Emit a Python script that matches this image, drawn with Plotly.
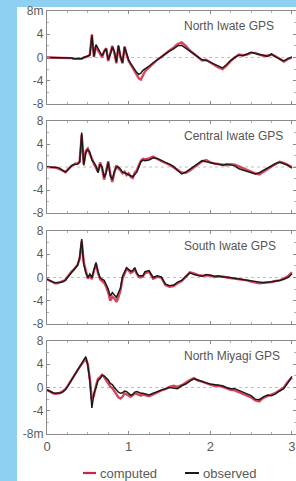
import plotly.graph_objects as go

# ---------------- data ----------------
TIME = [0.000, 0.025, 0.050, 0.075, 0.100, 0.125, 0.150, 0.175, 0.200, 0.225,
        0.250, 0.275, 0.300, 0.325, 0.350, 0.375, 0.400, 0.425, 0.450, 0.475,
        0.500, 0.525, 0.550, 0.575, 0.600, 0.625, 0.650, 0.675, 0.700, 0.725,
        0.750, 0.775, 0.800, 0.825, 0.850, 0.875, 0.900, 0.925, 0.950, 0.975,
        1.000, 1.025, 1.050, 1.075, 1.100, 1.125, 1.150, 1.175, 1.200,
        1.25, 1.30, 1.35, 1.40, 1.45, 1.50, 1.55, 1.60, 1.65, 1.70,
        1.75, 1.80, 1.85, 1.90, 1.95, 2.00, 2.05, 2.10, 2.15, 2.20,
        2.25, 2.30, 2.35, 2.40, 2.45, 2.50, 2.55, 2.60, 2.65, 2.70,
        2.75, 2.80, 2.85, 2.90, 2.95, 3.00]

STATIONS = ["North Iwate GPS", "Central Iwate GPS", "South Iwate GPS", "North Miyagi GPS"]

NORTH_IWATE_OBS = [0.0, 0.0, 0.0, 0.0, 0.0, 0.0, 0.0, 0.0, 0.0, -0.1, -0.1, -0.1, -0.1, -0.2, -0.2, -0.3, -0.3, -0.2,
                   0.0, 0.1, 0.3, 0.4, 3.8, 0.2, 2.2, 1.5, 0.9, 0.3, 1.0, 1.5, -0.4, 0.5, 1.8, 1.0, -0.8, 2.1,
                   0.2, -0.9, 1.8, 0.6, -0.4, -1.0, -1.6, -2.1, -2.6, -2.9, -2.7, -2.2, -2.0,
                   -1.5, -0.9, -0.4, 0.2, 0.6, 1.1, 1.5, 2.0, 2.1, 1.6, 1.1, 0.5, 0.0, -0.4, -0.5, -0.8, -1.2, -1.5,
                   -1.8, -1.2, -0.5, 0.0, 0.4, 0.3, 0.6, 0.9, 0.7, 0.6, 0.4, 0.2, 0.6, 0.1, -0.3, -0.6, -0.2, 0.1]
NORTH_IWATE_COMP = [0.0, 0.0, 0.0, 0.0, 0.0, 0.0, 0.0, 0.0, 0.0, -0.1, -0.1, -0.1, -0.1, -0.2, -0.2, -0.3, -0.3, -0.2,
                    0.0, 0.1, 0.2, 0.5, 4.0, 0.1, 2.0, 1.2, 0.7, 0.0, 1.1, 1.6, -0.6, 0.6, 2.0, 0.8, -1.0, 2.0,
                    0.0, -1.0, 1.9, 0.5, -0.6, -1.2, -1.8, -2.4, -3.0, -3.6, -3.8, -3.0, -2.4,
                    -1.7, -1.0, -0.4, 0.1, 0.7, 1.2, 1.7, 2.3, 2.6, 2.0, 1.2, 0.6, 0.1, -0.5, -0.4, -0.9, -1.3, -1.7,
                    -2.0, -1.4, -0.6, 0.0, 0.5, 0.4, 0.5, 0.8, 0.8, 0.5, 0.3, 0.3, 0.5, 0.2, -0.2, -0.7, -0.3, 0.0]

CENTRAL_IWATE_OBS = [0.0, 0.0, 0.0, -0.1, -0.1, -0.1, -0.2, -0.4, -0.6, -0.9, -0.6, -0.2, 0.2, 0.4, 0.5, 0.5, 0.8,
                     6.0, 0.3, 2.5, 3.0, 2.6, 1.2, 0.8, 0.2, -1.0, 0.5, 0.0, -1.8, -1.0, 0.8, -1.5, -2.2, -0.8,
                     0.0, 0.0, -0.4, -0.9, -1.0, -1.2, -1.3, -1.5, -1.7, -1.3, -0.9, 0.0, 0.9, 1.2, 1.1,
                     1.2, 1.6, 1.5, 1.1, 0.8, 0.5, 0.1, -0.6, -1.2, -0.9, -0.4, 0.0, 0.5, 1.1, 0.9, 0.7, 0.6, 0.5,
                     0.3, 0.5, 0.4, 0.2, -0.3, -0.5, -0.7, -1.0, -1.2, -1.0, -0.6, -0.3, 0.2, 0.6, 0.8, 0.6, 0.3, -0.2]
CENTRAL_IWATE_COMP = [0.0, 0.0, 0.0, -0.1, -0.1, -0.2, -0.3, -0.5, -0.7, -0.9, -0.5, -0.1, 0.2, 0.4, 0.6, 0.6, 1.0,
                      5.6, 0.5, 2.8, 3.2, 2.2, 1.5, 0.5, -0.3, -0.8, 0.8, -0.3, -2.2, -0.6, 1.0, -1.2, -2.6, -1.0,
                      0.3, -0.3, -0.6, -1.1, -0.8, -1.4, -1.1, -1.7, -1.9, -1.0, -0.6, 0.3, 1.1, 1.4, 1.3,
                      1.5, 1.8, 1.4, 1.0, 0.7, 0.4, 0.0, -0.5, -1.0, -1.0, -0.6, -0.1, 0.5, 1.0, 1.2, 0.8, 0.6, 0.5,
                      0.4, 0.3, 0.5, 0.4, 0.1, -0.2, -0.6, -0.9, -1.1, -1.3, -0.9, -0.4, 0.1, 0.5, 0.9, 0.7, 0.4, 0.0]

SOUTH_IWATE_OBS = [-0.3, -0.5, -0.6, -0.8, -0.9, -0.9, -0.9, -0.8, -0.7, -0.5, 0.0, 0.4, 0.9, 1.2, 1.6, 2.1, 3.5,
                   6.6, 2.3, 0.8, 0.0, 0.6, 0.0, 1.5, 2.6, 1.0, 0.0, -0.3, -0.5, -1.2, -2.0, -3.2, -2.6, -3.0,
                   -3.4, -2.6, -1.8, 0.2, 0.9, 1.7, 1.4, 1.1, 1.2, 1.7, 0.8, 0.3, 0.3, 0.3, 1.0,
                   1.2, 0.0, 0.3, 0.1, -1.1, -1.4, -1.3, -0.8, -0.5, 0.2, 0.8, 0.5, 0.3, 0.2, 0.5, 0.3, 0.2, 0.3,
                   0.1, 0.1, 0.0, -0.1, -0.2, -0.3, -0.4, -0.6, -0.7, -0.8, -0.9, -0.8, -0.7, -0.7, -0.5, -0.3, 0.0, 0.6]
SOUTH_IWATE_COMP = [-0.3, -0.5, -0.7, -0.9, -1.0, -1.0, -0.9, -0.8, -0.6, -0.4, 0.1, 0.5, 1.0, 1.3, 1.7, 2.2, 3.2,
                    6.2, 2.6, 1.0, -0.2, 0.3, -0.3, 1.2, 2.3, 0.8, -0.3, -0.6, -0.9, -1.6, -2.6, -4.0, -3.3, -3.6,
                    -4.2, -3.4, -2.2, -0.2, 0.6, 1.5, 1.2, 0.8, 1.0, 1.4, 0.6, 0.1, 0.0, 0.2, 0.7,
                    1.0, -0.2, 0.1, 0.0, -1.3, -1.6, -1.5, -1.0, -0.6, 0.1, 0.9, 0.7, 0.4, 0.3, 0.4, 0.4, 0.1, 0.2,
                    0.2, 0.0, -0.1, -0.1, -0.3, -0.4, -0.5, -0.7, -0.9, -1.0, -0.9, -0.9, -0.8, -0.6, -0.5, -0.2, 0.2, 0.9]

NORTH_MIYAGI_OBS = [-0.4, -0.6, -0.8, -0.9, -1.0, -1.0, -1.0, -0.9, -0.7, -0.4, 0.1, 0.7, 1.3, 1.8, 2.3, 3.0, 3.6,
                    4.2, 4.9, 5.3, 3.8, 1.0, -3.5, -1.0, 0.0, 1.2, 1.5, 2.1, 2.0, 1.6, 1.3, 0.7, 0.5, 0.0,
                    -0.5, -0.8, -1.0, -0.9, -0.6, -0.7, -1.0, -1.3, -1.2, -0.8, -0.7, -0.9, -1.0, -1.0, -1.1,
                    -1.3, -1.0, -0.7, -0.4, -0.2, 0.0, -0.1, -0.2, 0.3, 0.6, 1.1, 1.5, 1.3, 1.0, 0.8, 0.6, 0.5, 0.4,
                    0.3, 0.0, -0.2, -0.2, -0.5, -0.7, -1.0, -1.4, -2.0, -2.1, -1.6, -1.3, -1.4, -1.1, -0.6, -0.2, 0.8, 1.9]
NORTH_MIYAGI_COMP = [-0.4, -0.6, -0.9, -1.0, -1.1, -1.1, -1.0, -0.8, -0.6, -0.3, 0.2, 0.8, 1.4, 1.9, 2.4, 3.0, 3.5,
                     4.0, 4.6, 5.0, 4.0, 1.5, -2.0, -1.4, 0.3, 1.5, 1.8, 2.2, 1.8, 1.2, 0.8, 0.2, -0.1, -0.6,
                     -1.2, -1.7, -1.9, -1.6, -1.0, -1.2, -1.5, -1.6, -1.3, -1.0, -1.1, -1.3, -1.4, -1.2, -1.3,
                     -1.5, -1.2, -0.8, -0.5, -0.3, 0.1, 0.3, 0.1, 0.4, 0.9, 1.3, 1.6, 1.2, 1.0, 0.7, 0.5, 0.3, 0.3,
                     0.1, -0.2, -0.4, -0.5, -0.8, -1.0, -1.3, -1.7, -2.2, -2.4, -1.8, -1.5, -1.3, -0.9, -0.5, 0.0, 1.0, 1.7]

OBSERVED = [NORTH_IWATE_OBS, CENTRAL_IWATE_OBS, SOUTH_IWATE_OBS, NORTH_MIYAGI_OBS]
COMPUTED = [NORTH_IWATE_COMP, CENTRAL_IWATE_COMP, SOUTH_IWATE_COMP, NORTH_MIYAGI_COMP]

Y_TICKS = [-8, -4, 0, 4, 8]
Y_TEXT = [["-8", "-4", "0", "4", "8m"],
          ["-8", "-4", "0", "4", "8"],
          ["-8", "-4", "0", "4", "8"],
          ["-8m", "-4", "0", "4", "8"]]
X_TICKS = [0, 1, 2, 3]
LEGEND = ["computed", "observed"]

# ---------------- figure ----------------
W, H = 296, 481
ML, MR, MT, MB = 47, 0, 11, 47
PW, PH = W - ML - MR, H - MT - MB
BG = "#8ed0f0"


def py(p):  # pixel y -> paper y
    return (H - MB - p) / PH


def px(p):  # pixel x -> paper x
    return (p - ML) / PW


panels_px = [(11, 104), (121, 213), (231, 324), (341, 434)]

RED = "#d3243f"
BLACK = "#1e1a1a"
GRAY = "#8a8a8a"
FONT = "Liberation Sans, Arial, sans-serif"
TXT = "#5a5a5a"

fig = go.Figure()
layout = dict(
    width=W, height=H,
    margin=dict(l=ML, r=MR, t=MT, b=MB, pad=0),
    paper_bgcolor=BG,
    plot_bgcolor="white",
    showlegend=False,
    font=dict(family=FONT, color=TXT, size=12),
)

shapes = [
    dict(type="rect", xref="paper", yref="paper",
         x0=px(17), x1=px(300), y0=py(485), y1=py(7),
         fillcolor="white", line=dict(width=0), layer="below"),
]
annotations = []

for i in range(4):
    k = "" if i == 0 else str(i + 1)
    top, bot = panels_px[i]
    xa = "xaxis" + k
    ya = "yaxis" + k
    layout[xa] = dict(
        domain=[0, 1], range=[0, 3.05], anchor="y" + k,
        showline=True, mirror="ticks", linecolor=GRAY, linewidth=1.3,
        ticks="inside", ticklen=3, tickcolor=GRAY,
        tickvals=X_TICKS, showticklabels=(i == 3),
        minor=dict(ticks="inside", ticklen=2, dtick=0.25, tickcolor="#b0b0b0"),
        showgrid=False, zeroline=False,
        tickfont=dict(size=13, color=TXT, family=FONT),
    )
    if i < 3:
        layout[xa]["matches"] = "x4"
    layout[ya] = dict(
        domain=[py(bot), py(top)], range=[-8, 8], anchor="x" + k,
        showline=True, mirror="ticks", linecolor=GRAY, linewidth=1.3,
        ticks="inside", ticklen=3, tickcolor=GRAY,
        tickvals=Y_TICKS, ticktext=Y_TEXT[i],
        minor=dict(ticks="inside", ticklen=2, dtick=2, tickcolor="#b0b0b0"),
        showgrid=False, zeroline=False,
        tickfont=dict(size=12, color=TXT, family=FONT),
    )
    shapes.append(dict(type="line", xref="x" + k + " domain", yref="y" + k,
                       x0=0, x1=1, y0=0, y1=0,
                       line=dict(color="#b9c7ad", width=1, dash="dot"), layer="below"))
    fig.add_trace(go.Scatter(x=TIME, y=COMPUTED[i], mode="lines", name=LEGEND[0],
                             line=dict(color=RED, width=2.4), opacity=0.85,
                             xaxis="x" + k, yaxis="y" + k))
    fig.add_trace(go.Scatter(x=TIME, y=OBSERVED[i], mode="lines", name=LEGEND[1],
                             line=dict(color=BLACK, width=1.5),
                             xaxis="x" + k, yaxis="y" + k))
    annotations.append(dict(text=STATIONS[i], xref="paper", yref="paper",
                            x=px(182), y=py(top + 15), xanchor="left", yanchor="middle",
                            showarrow=False, font=dict(size=12, color="#555555", family=FONT)))

# manual legend
LEG_Y = py(473)
shapes.append(dict(type="line", xref="paper", yref="paper", x0=px(83), x1=px(96),
                   y0=LEG_Y, y1=LEG_Y, line=dict(color=RED, width=2.2)))
shapes.append(dict(type="line", xref="paper", yref="paper", x0=px(185), x1=px(199),
                   y0=LEG_Y, y1=LEG_Y, line=dict(color=BLACK, width=2)))
annotations.append(dict(text=LEGEND[0], xref="paper", yref="paper", x=px(98), y=LEG_Y,
                        xanchor="left", yanchor="middle", showarrow=False,
                        font=dict(size=13, color=TXT, family=FONT)))
annotations.append(dict(text=LEGEND[1], xref="paper", yref="paper", x=px(201), y=LEG_Y,
                        xanchor="left", yanchor="middle", showarrow=False,
                        font=dict(size=13, color=TXT, family=FONT)))

layout["shapes"] = shapes
layout["annotations"] = annotations
fig.update_layout(**layout)
fig.write_html(
    "out.html",
    config={"displayModeBar": False},
    post_script=("document.body.style.margin='0';document.body.style.padding='0';"
                 "document.body.style.overflow='hidden';"
                 "document.body.style.background='" + BG + "';"),
)
